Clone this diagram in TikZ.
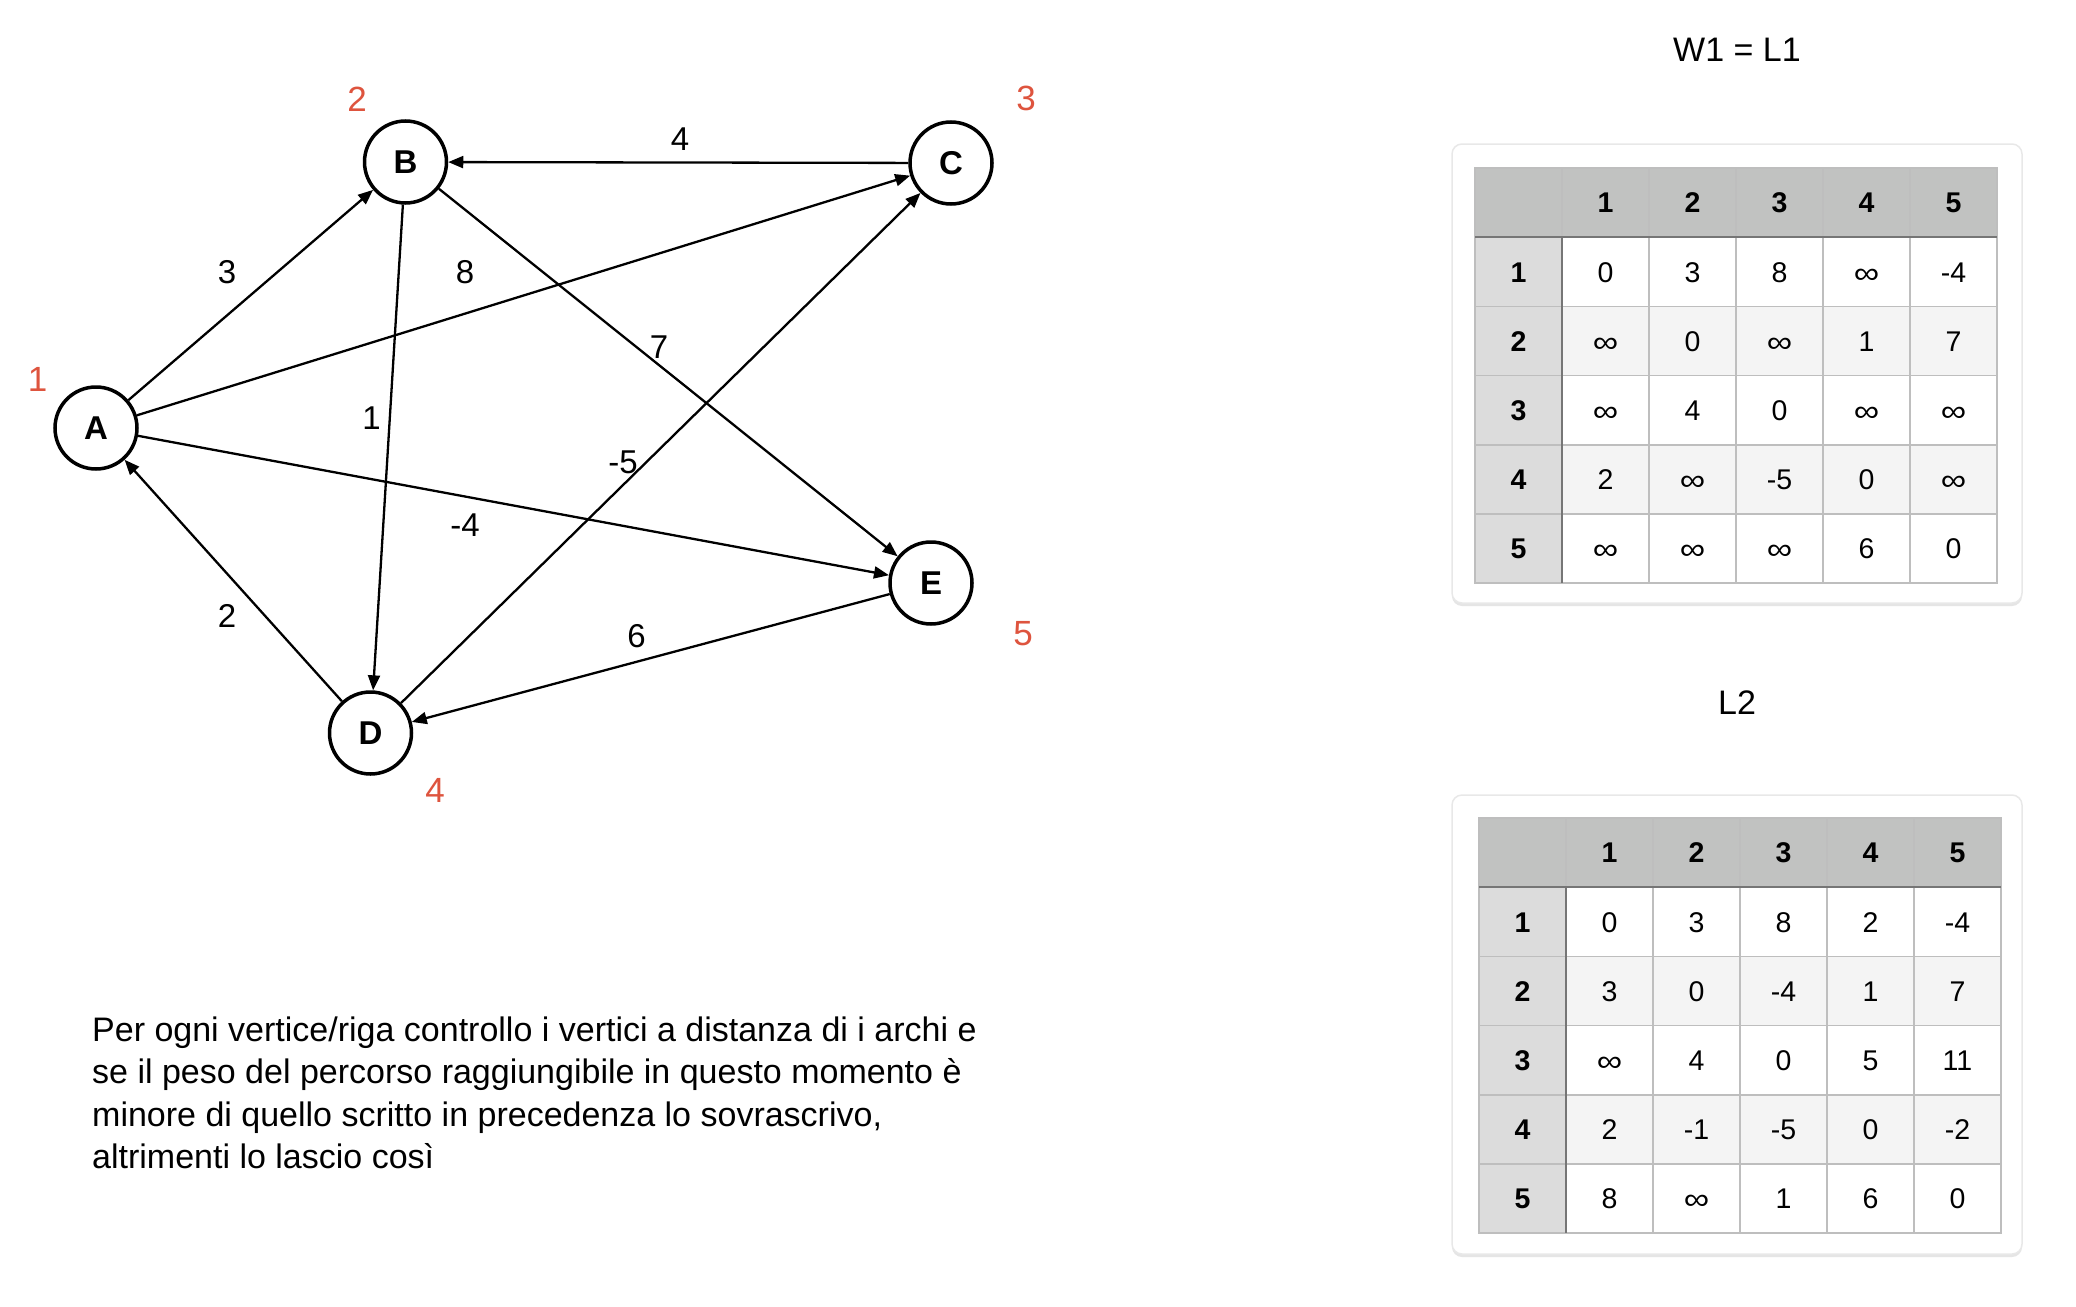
\documentclass[tikz,border=0pt]{standalone}
\usepackage{fontspec}
\usepackage{graphicx}
\setmainfont{Liberation Sans}
\usetikzlibrary{arrows.meta}
\definecolor{redlab}{RGB}{222,84,62}
\definecolor{hdr}{RGB}{193,194,193}
\definecolor{colone}{RGB}{220,220,220}
\definecolor{altrow}{RGB}{244,244,244}
\definecolor{gridc}{RGB}{190,190,190}
\definecolor{darkgrid}{RGB}{118,118,118}
\definecolor{boxb}{RGB}{232,232,232}
\newcommand\tabw{87}
\newcommand\tabh{69.2}
\newcommand\infsym{\raisebox{-1pt}{\scalebox{1.25}[1.05]{∞}}}
\newcommand\mytable[4]{%
  \fill[hdr] (#2,#3) rectangle ({#2+6*\tabw},{#3+\tabh});
  \fill[colone] (#2,{#3+\tabh}) rectangle ({#2+\tabw},{#3+6*\tabh});
  \fill[altrow] ({#2+\tabw},{#3+2*\tabh}) rectangle ({#2+6*\tabw},{#3+3*\tabh});
  \fill[altrow] ({#2+\tabw},{#3+4*\tabh}) rectangle ({#2+6*\tabw},{#3+5*\tabh});
  \foreach \i in {1,...,5}{
    \draw[gridline] ({#2+\i*\tabw},#3) -- ({#2+\i*\tabw},{#3+6*\tabh});
    \draw[gridline] (#2,{#3+\i*\tabh}) -- ({#2+6*\tabw},{#3+\i*\tabh});
  }
  \draw[gridline] (#2,#3) rectangle ({#2+6*\tabw},{#3+6*\tabh});
  \draw[darkline] (#2,{#3+\tabh}) -- ({#2+6*\tabw},{#3+\tabh});
  \draw[darkline] ({#2+\tabw},{#3+\tabh}) -- ({#2+\tabw},{#3+6*\tabh});
  \foreach \row [count=\r] in {#4}{
    \node[bnum] (#1-h\r) at ({#2+0.5*\tabw},{#3+(\r+0.5)*\tabh}) {\r};
    \node[bnum] (#1-c\r) at ({#2+(\r+0.5)*\tabw},{#3+0.5*\tabh}) {\r};
    \foreach \v [count=\c] in \row {
      \node[num] (#1-\r-\c) at ({#2+(\c+0.5)*\tabw},{#3+(\r+0.5)*\tabh}) {\v};
    }
  }
}
\begin{document}
\begin{tikzpicture}[x=1pt,y=-1pt,
  vert/.style={circle,draw=black,line width=3.5pt,minimum size=82pt,inner sep=0pt,
    font=\fontsize{33}{36}\selectfont\bfseries},
  edge/.style={line width=2.3pt,-{Triangle[length=15pt,width=12pt]}},
  elab/.style={inner sep=0pt,font=\fontsize{33}{36}\selectfont},
  rlab/.style={inner sep=0pt,text=redlab,font=\fontsize{35}{38}\selectfont},
  num/.style={inner sep=0pt,text height=20.5pt,text depth=0pt,font=\fontsize{28.5}{31}\selectfont},
  bnum/.style={num,font=\fontsize{28.5}{31}\selectfont\bfseries},
  gridline/.style={draw=gridc,line width=1.6pt},
  darkline/.style={draw=darkgrid,line width=2pt},
  ttl/.style={inner sep=0pt,font=\fontsize{34}{38}\selectfont},
  body/.style={inner sep=0pt,anchor=base west,font=\fontsize{34}{42}\selectfont},
  cardshadow/.style={fill=black!10,rounded corners=10pt},
  card/.style={fill=white,draw=boxb,line width=1.5pt,rounded corners=10pt}
]
\useasboundingbox (0,0) rectangle (2076,1306);
\fill[white] (0,0) rectangle (2076,1306);

% graph
\node[vert] (A) at (96,428) {A};
\node[vert] (B) at (405.5,162) {B};
\node[vert] (C) at (951,163) {C};
\node[vert] (D) at (370.5,733) {D};
\node[vert] (E) at (931,583) {E};

\draw[edge] (A) -- (B);
\draw[edge] (A) -- (C);
\draw[edge] (A) -- (E);
\draw[edge] (B) -- (D);
\draw[edge] (B) -- (E);
\draw[edge] (C) -- (B);
\draw[edge] (D) -- (A);
\draw[edge] (D) -- (C);
\draw[edge] (E) -- (D);

\node[elab] (l3) at (227,272.5) {3};
\node[elab] (l8) at (465,272.5) {8};
\node[elab] (l4) at (680,139) {4};
\node[elab] (l7) at (659,347) {7};
\node[elab] (l1) at (371.5,418) {1};
\node[elab] (lm5) at (623,462) {-5};
\node[elab] (lm4) at (465,525) {-4};
\node[elab] (l2) at (227,616) {2};
\node[elab] (l6) at (636.5,636.5) {6};

\node[rlab] (nA) at (37.5,379) {1};
\node[rlab] (nB) at (357,99) {2};
\node[rlab] (nC) at (1026,98) {3};
\node[rlab] (nD) at (435,790) {4};
\node[rlab] (nE) at (1023,634) {5};

% text
\node[body] (t1) at (92,1041) {Per ogni vertice/riga controllo i vertici a distanza di i archi e};
\node[body] (t2) at (92,1083.6) {se il peso del percorso raggiungibile in questo momento è};
\node[body] (t3) at (92,1126.2) {minore di quello scritto in precedenza lo sovrascrivo,};
\node[body] (t4) at (92,1168.8) {altrimenti lo lascio così};

% titles
\node[ttl] (w1) at (1737,50) {W1 = L1};
\node[ttl] (w2) at (1737,703) {L2};

% cards
\fill[cardshadow] (1452,147) rectangle (2022,606);
\draw[card] (1452,144) rectangle (2022,603);
\fill[cardshadow] (1452,798) rectangle (2022,1257);
\draw[card] (1452,795) rectangle (2022,1254);

\mytable{ta}{1475}{168}{{0,3,8,\infsym,-4},{\infsym,0,\infsym,1,7},{\infsym,4,0,\infsym,\infsym},{2,\infsym,-5,0,\infsym},{\infsym,\infsym,\infsym,6,0}}
\mytable{tb}{1479}{818}{{0,3,8,2,-4},{3,0,-4,1,7},{\infsym,4,0,5,11},{2,-1,-5,0,-2},{8,\infsym,1,6,0}}
\end{tikzpicture}
\end{document}
